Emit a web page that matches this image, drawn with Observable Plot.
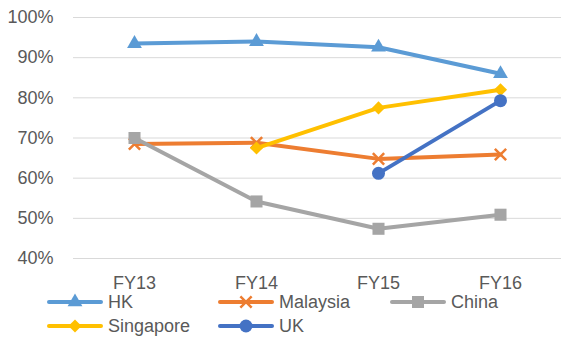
<!DOCTYPE html>
<html>
<head>
<meta charset="utf-8">
<script src="https://cdn.jsdelivr.net/npm/d3@7"></script>
<script src="https://cdn.jsdelivr.net/npm/@observablehq/plot@0.6"></script>
<style>
  body { margin: 0; background: #fff; font-family: "Liberation Sans", Arial, sans-serif; }
  #chart { position: relative; width: 561px; }
  #chart > svg { display: block; }
  #legend {
    display: grid;
    grid-template-columns: 171px 172px auto;
    grid-auto-rows: 24px;
    padding-left: 47px;
    margin-top: -10px;
    color: #595959;
    font-size: 18px;
  }
  .item { display: flex; align-items: center; }
  .item svg { display: block; }
  .item span { margin-left: 5px; line-height: 24px; }
</style>
</head>
<body>
<div id="chart"></div>
<script>
// Fiscal years on the x axis
const years = ["FY13", "FY14", "FY15", "FY16"];

// Share per market, by fiscal year (null where not reported)
const hk = [0.935, 0.94, 0.926, 0.86];
const malaysia = [0.685, 0.688, 0.648, 0.659];
const china = [0.70, 0.542, 0.474, 0.509];
const singapore = [null, 0.675, 0.775, 0.82];
const uk = [null, null, 0.612, 0.793];

// Y axis tick values
const yTicks = [0.4, 0.5, 0.6, 0.7, 0.8, 0.9, 1.0];

// Series in drawing order, with their look
const series = [
  {name: "HK", values: hk, color: "#5B9BD5", symbol: "triangle", r: 5.5, filled: true},
  {name: "Malaysia", values: malaysia, color: "#ED7D31", symbol: "times", r: 5.2, filled: false},
  {name: "China", values: china, color: "#A5A5A5", symbol: "square", r: 6.8, filled: true},
  {name: "Singapore", values: singapore, color: "#FFC000", symbol: "diamond2", r: 5.9, filled: true},
  {name: "UK", values: uk, color: "#4472C4", symbol: "circle", r: 6.5, filled: true}
];

const rows = s => years.map((year, i) => ({year, value: s.values[i]}));

const marks = [
  Plot.gridY(yTicks, {stroke: "#d9d9d9", strokeOpacity: 1, strokeWidth: 1}),
  Plot.axisY(yTicks, {tickFormat: d3.format(".0%"), tickSize: 0, tickPadding: 20, fontSize: 18}),
  Plot.axisX({tickSize: 0, tickPadding: 18, fontSize: 18})
];
for (const s of series) {
  marks.push(Plot.line(rows(s), {
    x: "year", y: "value", stroke: s.color, strokeWidth: 4,
    strokeLinejoin: "round", strokeLinecap: "round"
  }));
  marks.push(Plot.dot(rows(s).filter(d => d.value != null), {
    x: "year", y: "value", symbol: s.symbol, r: s.r,
    fill: s.filled ? s.color : "none",
    stroke: s.filled ? "none" : s.color,
    strokeWidth: s.filled ? 0 : 2.5
  }));
}

const chart = Plot.plot({
  width: 561,
  height: 300,
  marginTop: 17,
  marginBottom: 42,
  marginLeft: 73,
  marginRight: 0,
  style: {fontFamily: '"Liberation Sans", Arial, sans-serif', fontSize: "18px", color: "#595959", background: "#fff"},
  x: {type: "point", domain: years, padding: 0.5, label: null},
  y: {domain: [0.4, 1.0], label: null},
  marks
});
document.getElementById("chart").append(chart);

// Legend below the plot
const legend = d3.select("#chart").append("div").attr("id", "legend");
const symbolTypes = {
  triangle: d3.symbolTriangle, times: d3.symbolTimes, square: d3.symbolSquare,
  diamond2: d3.symbolDiamond2, circle: d3.symbolCircle
};
for (const s of series) {
  const item = legend.append("div").attr("class", "item");
  const svg = item.append("svg").attr("width", 56).attr("height", 24);
  svg.append("line")
    .attr("x1", 2).attr("x2", 54).attr("y1", 12).attr("y2", 12)
    .attr("stroke", s.color).attr("stroke-width", 4).attr("stroke-linecap", "round");
  svg.append("path")
    .attr("transform", "translate(28,12)")
    .attr("d", d3.symbol(symbolTypes[s.symbol], s.r * s.r * Math.PI)())
    .attr("fill", s.filled ? s.color : "none")
    .attr("stroke", s.filled ? "none" : s.color)
    .attr("stroke-width", 2.5);
  item.append("span").text(s.name);
}
</script>
</body>
</html>
